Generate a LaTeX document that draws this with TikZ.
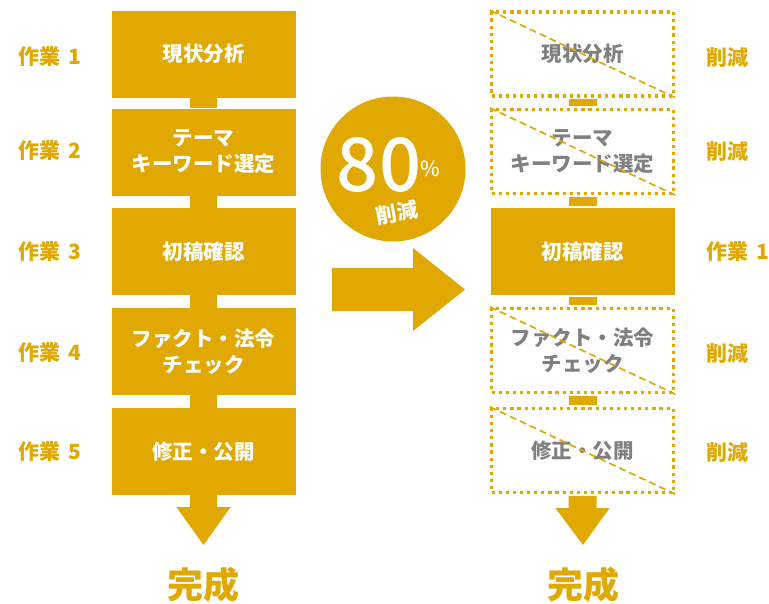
\documentclass[tikz,border=0pt]{standalone}
\usepackage{fontspec}
\setmainfont{Noto Sans CJK JP}
\newfontfamily\medfont{Noto Sans CJK JP Medium}
\definecolor{gold}{RGB}{224,168,0}
\definecolor{txtgray}{RGB}{128,128,128}
\tikzset{
  solidbox/.style={fill=gold, minimum width=184, minimum height=87, text=white, align=center, inner sep=0, font=\fontsize{20.5}{26}\selectfont\bfseries},
  dotbox/.style={draw=gold, line width=3.2, dash pattern=on 3.2 off 3.9, minimum width=182, minimum height=84, text=txtgray, align=center, inner sep=0, font=\fontsize{20.5}{26}\selectfont\bfseries},
  cross/.style={draw=gold, line width=1.7, dash pattern=on 7 off 4},
  lbl/.style={text=gold, anchor=west, inner sep=0, font=\fontsize{21}{24}\selectfont\bfseries},
  done/.style={text=gold, inner sep=0, font=\fontsize{36}{40}\selectfont\bfseries},
}
\begin{document}
\begin{tikzpicture}[x=1pt,y=-1pt]
\useasboundingbox (0,0) rectangle (769,603);
% ---------- left column ----------
\node[solidbox] (l1) at (203.5,54) {現状分析};
\node[solidbox] (l2) at (203.5,152) {テーマ\\キーワード選定};
\node[solidbox] (l3) at (203.5,251.5) {初稿確認};
\node[solidbox] (l4) at (203.5,351.5) {ファクト・法令\\チェック};
\node[solidbox] (l5) at (203.5,451.5) {修正・公開};
\foreach \a/\b in {l1/l2,l2/l3,l3/l4,l4/l5}{
  \fill[gold] ([xshift=-13.5pt]\a.south) rectangle ([xshift=13.5pt]\b.north);
}
\coordinate (ltip) at (203.5,545);
\fill[gold] ([xshift=-13.5pt]l5.south) -- ([xshift=-13.5pt,yshift=-12pt]l5.south)
  -- ([xshift=-27pt,yshift=-12pt]l5.south) -- (ltip) -- ([xshift=27pt,yshift=-12pt]l5.south)
  -- ([xshift=13.5pt,yshift=-12pt]l5.south) -- ([xshift=13.5pt]l5.south) -- cycle;
\node[done] (ld) at (203.5,585) {完成};
\node[lbl] (w1) at (18,57) {作業\hspace{0.4em}1};
\node[lbl] (w2) at (18,151) {作業\hspace{0.4em}2};
\node[lbl] (w3) at (18,252) {作業\hspace{0.4em}3};
\node[lbl] (w4) at (18,353) {作業\hspace{0.4em}4};
\node[lbl] (w5) at (18,452) {作業\hspace{0.4em}5};
% ---------- middle ----------
\node[circle, fill=gold, minimum size=145, inner sep=0] (c) at (393,169) {};
\node[text=white, anchor=base, inner sep=0, text depth=0pt, font=\medfont\fontsize{74}{74}\selectfont] (p80) at (379,191) {80};
\node[text=white, anchor=base west, inner sep=0, font=\medfont\fontsize{21}{21}\selectfont] (pct) at (420,176) {\%};
\node[text=white, rotate=10, inner sep=0, font=\fontsize{21}{24}\selectfont\bfseries] (cut) at (397,213) {削減};
\fill[gold] (332,268) -- (413,268) -- (413,248) -- (465,289.5) -- (413,331) -- (413,311) -- (332,311) -- cycle;
% ---------- right column ----------
\node[dotbox] (r1) at (582.5,54) {現状分析};
\node[dotbox] (r2) at (582.5,151.5) {テーマ\\キーワード選定};
\node[solidbox, minimum width=184] (r3) at (582.5,251.5) {初稿確認};
\node[dotbox] (r4) at (582.5,350.5) {ファクト・法令\\チェック};
\node[dotbox] (r5) at (582.5,450.5) {修正・公開};
\foreach \a/\b in {r1/r2,r2/r3,r3/r4,r4/r5}{
  \fill[gold] ([xshift=-14pt,yshift=-1.7pt]\a.south) rectangle ([xshift=14pt,yshift=1.7pt]\b.north);
}
\foreach \r in {r1,r2,r4,r5}{
  \draw[cross] (\r.north west) -- (\r.south east);
}
\coordinate (rtip) at (583,545);
\fill[gold] ([xshift=-14pt,yshift=-1.7pt]r5.south) -- ([xshift=-14pt,yshift=-14pt]r5.south)
  -- ([xshift=-27pt,yshift=-14pt]r5.south) -- (rtip) -- ([xshift=27pt,yshift=-14pt]r5.south)
  -- ([xshift=14pt,yshift=-14pt]r5.south) -- ([xshift=14pt,yshift=-1.7pt]r5.south) -- cycle;
\node[done] (rd) at (583,585) {完成};
\node[lbl] (k1) at (706,57) {削減};
\node[lbl] (k2) at (706,151) {削減};
\node[lbl] (k3) at (706,252) {作業\hspace{0.4em}1};
\node[lbl] (k4) at (706,353) {削減};
\node[lbl] (k5) at (706,452) {削減};
\end{tikzpicture}
\end{document}
